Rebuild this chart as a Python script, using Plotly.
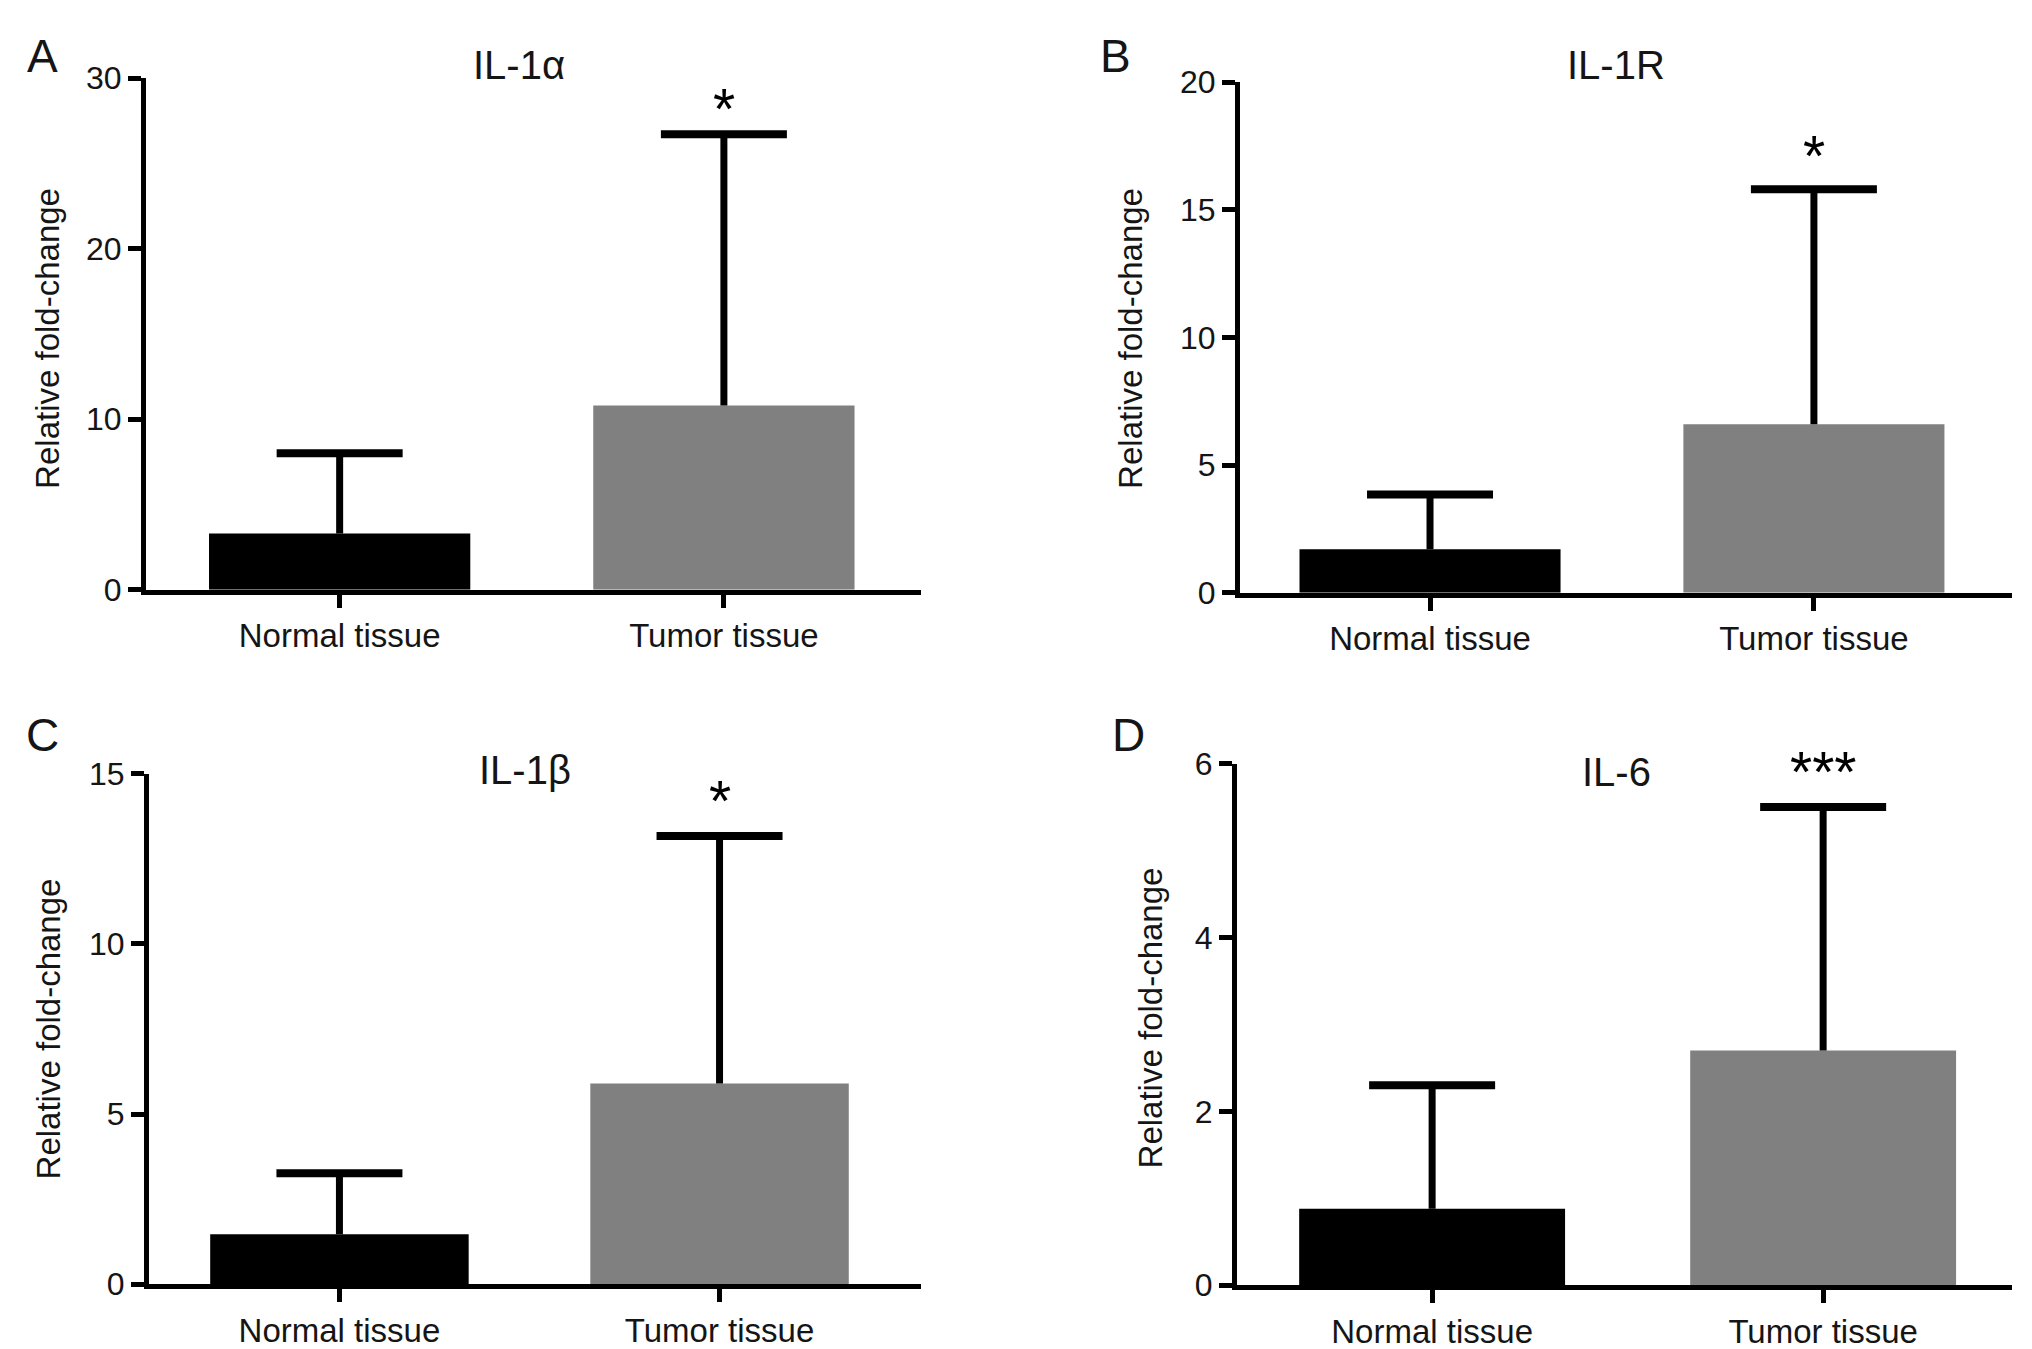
import plotly.graph_objects as go

categories = ["Normal tissue", "Tumor tissue"]

# panel values: bar heights and the tops of the (upper-only) error bars
il1a_mean = [3.3, 10.8]
il1a_upper = [8.0, 26.7]
il1r_mean = [1.7, 6.6]
il1r_upper = [3.85, 15.8]
il1b_mean = [1.47, 5.9]
il1b_upper = [3.26, 13.17]
il6_mean = [0.88, 2.7]
il6_upper = [2.3, 5.5]

titles = ["IL-1α", "IL-1R", "IL-1β", "IL-6"]
letters = ["A", "B", "C", "D"]
signif = ["*", "*", "*", "***"]
signif_y = [28.65, 17.4, 14.44, 5.99]
y_max = [30, 20, 15, 6]
y_step = [10, 5, 5, 2]

bar_colors = ["#000000", "#808080"]
FONT = "Liberation Sans, Arial, Helvetica, sans-serif"
TXT = "#151515"

W, H = 2032, 1349


# convert positions measured on the reference image into paper coords
# (small correction for how the page ends up in the screenshot)
def px(x):
    return (x - 5) / W


def py(y):
    return 1 - ((0.7716 * y - 20) / 0.7515) / H


means = [il1a_mean, il1r_mean, il1b_mean, il6_mean]
uppers = [il1a_upper, il1r_upper, il1b_upper, il6_upper]

# pixel boxes of each plot area: (left, right, top, bottom)
boxes = [
    (143, 918, 78, 590),
    (1237, 2009, 82, 593),
    (146, 918, 774, 1285),
    (1234, 2009, 764, 1286),
]
x_ranges = [[-0.504, 1.513], [-0.495, 1.516], [-0.501, 1.53], [-0.499, 1.483]]
title_pos = [(516, 65), (1613, 65), (522, 770), (1613, 772)]
letter_pos = [(39, 29), (1112, 29), (39, 735), (1125, 735)]
ylab_pos = [(45, 339), (1128, 339), (45, 1030), (1147, 1019)]

fig = go.Figure()
annotations = []

for i in range(4):
    xa = "x" if i == 0 else "x%d" % (i + 1)
    ya = "y" if i == 0 else "y%d" % (i + 1)
    err = [u - m for u, m in zip(uppers[i], means[i])]
    fig.add_trace(go.Bar(
        x=categories, y=means[i],
        marker=dict(color=bar_colors, line=dict(width=0)),
        error_y=dict(type="data", array=err, arrayminus=[0, 0], symmetric=False,
                     color="black", thickness=7, width=0),
        xaxis=xa, yaxis=ya, showlegend=False,
    ))
    # caps on top of the error bars only
    fig.add_trace(go.Scatter(
        x=categories, y=uppers[i], mode="markers",
        marker=dict(symbol="line-ew", size=90, color="black",
                    line=dict(width=8, color="black")),
        xaxis=xa, yaxis=ya, showlegend=False, cliponaxis=False,
    ))

    l, r, t, b = boxes[i]
    key = "" if i == 0 else str(i + 1)
    fig.layout["xaxis" + key] = dict(
        domain=[px(l), px(r)], anchor=ya, range=x_ranges[i],
        showline=True, linecolor="black", linewidth=5,
        ticks="outside", ticklen=13, tickwidth=5, tickcolor="black",
        tickfont=dict(family=FONT, size=33, color=TXT),
        showgrid=False, zeroline=False, fixedrange=True,
    )
    fig.layout["yaxis" + key] = dict(
        domain=[py(b), py(t)], anchor=xa, range=[0, y_max[i]],
        tick0=0, dtick=y_step[i],
        showline=True, linecolor="black", linewidth=5,
        ticks="outside", ticklen=13, tickwidth=5, tickcolor="black",
        tickfont=dict(family=FONT, size=32, color=TXT),
        showgrid=False, zeroline=False, fixedrange=True,
    )

    # significance stars
    annotations.append(dict(
        x=categories[1], y=signif_y[i], xref=xa, yref=ya, text=signif[i],
        xanchor="center", yanchor="middle", yshift=-8,
        showarrow=False, font=dict(family=FONT, size=57, color="black"),
    ))
    # panel titles
    tx, ty = title_pos[i]
    annotations.append(dict(
        x=px(tx), y=py(ty), xref="paper", yref="paper", text=titles[i],
        xanchor="center", yanchor="middle",
        showarrow=False, font=dict(family=FONT, size=40, color=TXT),
    ))
    # panel letters (top row pinned to the page top so nothing is cut)
    lx, ly = letter_pos[i]
    annotations.append(dict(
        x=px(lx), y=min(py(ly), 1.0), xref="paper", yref="paper", text=letters[i],
        xanchor="center", yanchor="top" if py(ly) > 0.97 else "middle",
        borderpad=0,
        showarrow=False, font=dict(family=FONT, size=46, color=TXT),
    ))
    # y axis titles
    yx, yy = ylab_pos[i]
    annotations.append(dict(
        x=px(yx), y=py(yy), xref="paper", yref="paper",
        text="Relative fold-change", textangle=-90,
        xanchor="center", yanchor="middle",
        showarrow=False, font=dict(family=FONT, size=33, color=TXT),
    ))

fig.update_layout(
    width=W, height=H,
    margin=dict(l=0, r=0, t=0, b=0),
    paper_bgcolor="white", plot_bgcolor="white",
    bargap=0.32,
    annotations=annotations,
)

fig.write_html("out.html")
